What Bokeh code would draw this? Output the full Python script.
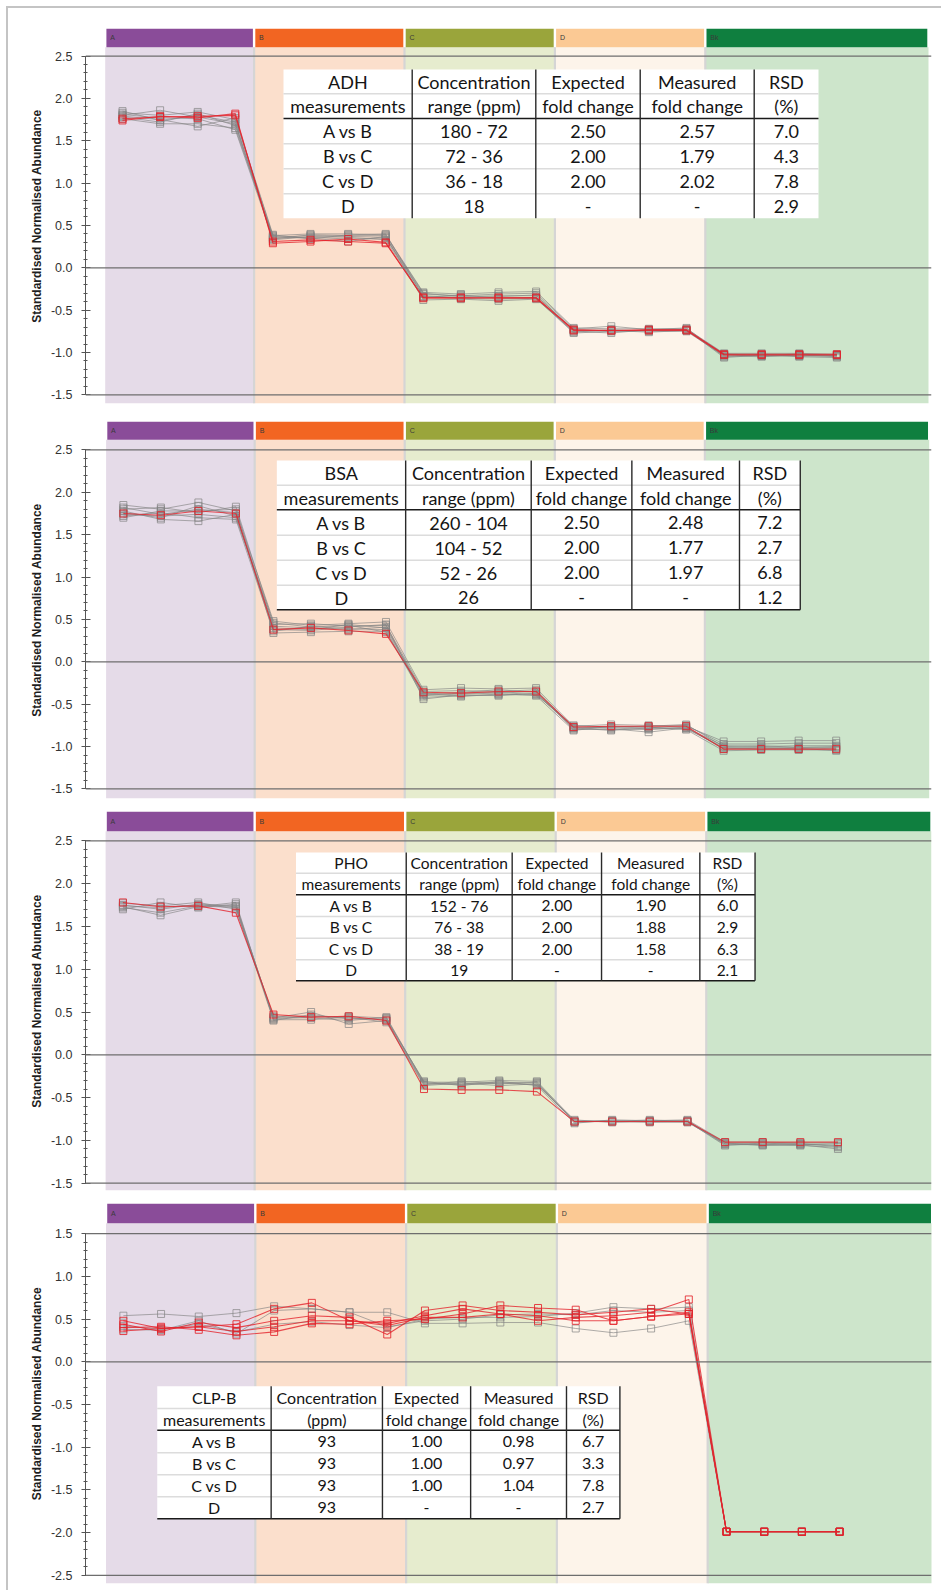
from bokeh.plotting import figure
from bokeh.layouts import column
from bokeh.models import Span, SingleIntervalTicker, PrintfTickFormatter
from bokeh.core.properties import value
from bokeh.embed import file_html
from bokeh.resources import INLINE

# ---------------- data ----------------
groups = ["A", "B", "C", "D", "Bk"]
header_colors = ["#8a4c99", "#f26522", "#9aa53b", "#fbc994", "#0f7f3f"]
band_colors = ["#e5dbe8", "#fbdfcc", "#e6ecce", "#fdf4ea", "#cde5cb"]
points_per_group = 4
x_idx = list(range(len(groups) * points_per_group))

adh_grey = [
    [1.83, 1.80, 1.84, 1.75, 0.38, 0.40, 0.40, 0.39, -0.29, -0.31, -0.29, -0.28, -0.71, -0.72, -0.72, -0.72, -1.01, -1.01, -1.01, -1.02],
    [1.80, 1.86, 1.78, 1.70, 0.36, 0.38, 0.37, 0.36, -0.31, -0.33, -0.31, -0.30, -0.72, -0.69, -0.73, -0.73, -1.02, -1.03, -1.02, -1.03],
    [1.78, 1.72, 1.82, 1.68, 0.35, 0.36, 0.34, 0.35, -0.33, -0.35, -0.34, -0.32, -0.74, -0.75, -0.74, -0.74, -1.03, -1.04, -1.04, -1.04],
    [1.85, 1.74, 1.80, 1.72, 0.33, 0.37, 0.36, 0.33, -0.35, -0.32, -0.36, -0.35, -0.76, -0.73, -0.75, -0.75, -1.04, -1.05, -1.03, -1.05],
    [1.76, 1.70, 1.70, 1.65, 0.37, 0.35, 0.31, 0.37, -0.38, -0.37, -0.39, -0.37, -0.75, -0.77, -0.73, -0.71, -1.05, -1.02, -1.05, -1.06],
    [1.81, 1.77, 1.76, 1.63, 0.34, 0.39, 0.38, 0.38, -0.30, -0.34, -0.33, -0.33, -0.73, -0.74, -0.76, -0.74, -1.02, -1.04, -1.02, -1.04],
    [1.79, 1.75, 1.67, 1.77, 0.39, 0.34, 0.39, 0.40, -0.34, -0.36, -0.37, -0.36, -0.77, -0.75, -0.74, -0.73, -1.06, -1.03, -1.04, -1.03],
]
adh_red = [
    [1.74, 1.79, 1.77, 1.82, 0.29, 0.31, 0.34, 0.30, -0.36, -0.36, -0.35, -0.35, -0.74, -0.74, -0.73, -0.73, -1.02, -1.02, -1.02, -1.02],
    [1.76, 1.78, 1.79, 1.80, 0.31, 0.33, 0.31, 0.29, -0.35, -0.35, -0.36, -0.36, -0.73, -0.74, -0.74, -0.74, -1.03, -1.03, -1.03, -1.03],
]

bsa_grey = [
    [1.85, 1.80, 1.88, 1.78, 0.48, 0.43, 0.45, 0.47, -0.33, -0.31, -0.32, -0.31, -0.76, -0.74, -0.75, -0.76, -0.94, -0.94, -0.93, -0.93],
    [1.80, 1.82, 1.76, 1.83, 0.44, 0.45, 0.42, 0.43, -0.35, -0.34, -0.35, -0.33, -0.78, -0.77, -0.78, -0.75, -0.97, -0.97, -0.96, -0.96],
    [1.76, 1.70, 1.84, 1.72, 0.40, 0.38, 0.44, 0.40, -0.38, -0.36, -0.33, -0.36, -0.80, -0.79, -0.83, -0.78, -0.99, -1.00, -0.99, -0.99],
    [1.72, 1.76, 1.70, 1.68, 0.36, 0.42, 0.39, 0.38, -0.40, -0.38, -0.37, -0.35, -0.79, -0.80, -0.79, -0.79, -1.01, -1.01, -1.01, -1.00],
    [1.82, 1.74, 1.80, 1.76, 0.34, 0.35, 0.36, 0.36, -0.42, -0.40, -0.39, -0.38, -0.77, -0.78, -0.80, -0.77, -1.03, -1.02, -1.03, -1.02],
    [1.78, 1.68, 1.66, 1.74, 0.42, 0.40, 0.38, 0.41, -0.37, -0.41, -0.38, -0.40, -0.81, -0.76, -0.77, -0.80, -1.05, -1.04, -1.04, -1.04],
    [1.70, 1.78, 1.78, 1.80, 0.38, 0.37, 0.41, 0.44, -0.44, -0.39, -0.40, -0.37, -0.78, -0.81, -0.78, -0.78, -1.02, -1.03, -1.02, -1.05],
    [1.74, 1.72, 1.74, 1.70, 0.46, 0.41, 0.43, 0.35, -0.39, -0.37, -0.36, -0.39, -0.75, -0.77, -0.76, -0.74, -1.00, -0.99, -1.01, -1.01],
]
bsa_red = [
    [1.75, 1.73, 1.78, 1.75, 0.38, 0.40, 0.37, 0.33, -0.36, -0.37, -0.35, -0.35, -0.77, -0.76, -0.76, -0.76, -1.03, -1.03, -1.03, -1.03],
]

pho_grey = [
    [1.75, 1.70, 1.76, 1.74, 0.42, 0.44, 0.45, 0.43, -0.32, -0.32, -0.30, -0.31, -0.77, -0.77, -0.77, -0.76, -1.02, -1.02, -1.03, -1.03],
    [1.72, 1.66, 1.74, 1.72, 0.40, 0.47, 0.42, 0.42, -0.34, -0.34, -0.32, -0.33, -0.78, -0.78, -0.78, -0.77, -1.04, -1.04, -1.04, -1.06],
    [1.70, 1.78, 1.72, 1.76, 0.43, 0.50, 0.36, 0.40, -0.35, -0.31, -0.34, -0.32, -0.79, -0.77, -0.79, -0.78, -1.05, -1.05, -1.06, -1.08],
    [1.77, 1.74, 1.78, 1.70, 0.44, 0.43, 0.40, 0.44, -0.33, -0.35, -0.33, -0.35, -0.76, -0.79, -0.78, -0.79, -1.03, -1.06, -1.05, -1.04],
    [1.73, 1.63, 1.73, 1.78, 0.41, 0.41, 0.44, 0.38, -0.36, -0.33, -0.36, -0.34, -0.78, -0.78, -0.76, -0.78, -1.06, -1.03, -1.05, -1.10],
    [1.74, 1.72, 1.75, 1.73, 0.45, 0.45, 0.43, 0.41, -0.31, -0.36, -0.31, -0.36, -0.80, -0.76, -0.77, -0.77, -1.04, -1.05, -1.04, -1.07],
]
pho_red = [
    [1.78, 1.73, 1.74, 1.66, 0.47, 0.44, 0.45, 0.40, -0.40, -0.41, -0.41, -0.43, -0.78, -0.78, -0.78, -0.78, -1.02, -1.02, -1.02, -1.02],
]

clpb_grey = [
    [0.54, 0.56, 0.53, 0.57, 0.65, 0.62, 0.58, 0.58, 0.45, 0.45, 0.46, 0.46, 0.39, 0.34, 0.39, 0.48, -1.99, -1.99, -1.99, -1.99],
    [0.42, 0.38, 0.44, 0.35, 0.44, 0.47, 0.43, 0.40, 0.50, 0.52, 0.52, 0.53, 0.57, 0.64, 0.62, 0.64, -1.99, -1.99, -1.99, -1.99],
    [0.38, 0.37, 0.48, 0.33, 0.60, 0.62, 0.58, 0.41, 0.48, 0.50, 0.55, 0.56, 0.55, 0.60, 0.58, 0.60, -1.99, -1.99, -1.99, -1.99],
]
clpb_red = [
    [0.48, 0.39, 0.41, 0.44, 0.62, 0.69, 0.48, 0.45, 0.54, 0.62, 0.56, 0.48, 0.52, 0.54, 0.58, 0.73, -1.99, -1.99, -1.99, -1.99],
    [0.44, 0.355, 0.46, 0.40, 0.48, 0.54, 0.52, 0.32, 0.60, 0.66, 0.60, 0.58, 0.55, 0.58, 0.62, 0.56, -1.99, -1.99, -1.99, -1.99],
    [0.40, 0.41, 0.375, 0.31, 0.35, 0.45, 0.44, 0.48, 0.50, 0.56, 0.66, 0.63, 0.61, 0.48, 0.53, 0.58, -1.99, -1.99, -1.99, -1.99],
    [0.36, 0.39, 0.41, 0.355, 0.41, 0.48, 0.48, 0.425, 0.52, 0.52, 0.56, 0.54, 0.48, 0.48, 0.53, 0.56, -1.99, -1.99, -1.99, -1.99],
]

adh_head1 = ["ADH", "Concentration", "Expected", "Measured", "RSD"]
adh_head2 = ["measurements", "range (ppm)", "fold change", "fold change", "(%)"]
adh_rows = [["A vs B", "180 - 72", "2.50", "2.57", "7.0"],
            ["B vs C", "72 - 36", "2.00", "1.79", "4.3"],
            ["C vs D", "36 - 18", "2.00", "2.02", "7.8"],
            ["D", "18", "-", "-", "2.9"]]
bsa_head1 = ["BSA", "Concentration", "Expected", "Measured", "RSD"]
bsa_head2 = ["measurements", "range (ppm)", "fold change", "fold change", "(%)"]
bsa_rows = [["A vs B", "260 - 104", "2.50", "2.48", "7.2"],
            ["B vs C", "104 - 52", "2.00", "1.77", "2.7"],
            ["C vs D", "52 - 26", "2.00", "1.97", "6.8"],
            ["D", "26", "-", "-", "1.2"]]
pho_head1 = ["PHO", "Concentration", "Expected", "Measured", "RSD"]
pho_head2 = ["measurements", "range (ppm)", "fold change", "fold change", "(%)"]
pho_rows = [["A vs B", "152 - 76", "2.00", "1.90", "6.0"],
            ["B vs C", "76 - 38", "2.00", "1.88", "2.9"],
            ["C vs D", "38 - 19", "2.00", "1.58", "6.3"],
            ["D", "19", "-", "-", "2.1"]]
clpb_head1 = ["CLP-B", "Concentration", "Expected", "Measured", "RSD"]
clpb_head2 = ["measurements", "(ppm)", "fold change", "fold change", "(%)"]
clpb_rows = [["A vs B", "93", "1.00", "0.98", "6.7"],
             ["B vs C", "93", "1.00", "0.97", "3.3"],
             ["C vs D", "93", "1.00", "1.04", "7.8"],
             ["D", "93", "-", "-", "2.7"]]

# ---------------- layout (page pixels) ----------------
OX, OY = 8, 8
FIG_W = 941 - OX
RIGHT_PX = 931

panels = [
    dict(grey=adh_grey, red=adh_red, h1=adh_head1, h2=adh_head2, rows=adh_rows, bounds=(-1.5, 2.5),
         fig_top=8, fig_bottom=410, frame_top=28, head_bot=46.7, frame_bottom=403,
         axis_x=85, x0=122.0, s=37.6, y0=267.3, k=84.7, band_right=928,
         tcols=[283, 411.7, 535.3, 639.7, 753.7, 818], trows=[69, 93.3, 118, 143.3, 168.3, 193.3, 217.7],
         tfont=18, tbottom=False, tright=False),
    dict(grey=bsa_grey, red=bsa_red, h1=bsa_head1, h2=bsa_head2, rows=bsa_rows, bounds=(-1.5, 2.5),
         fig_top=410, fig_bottom=802, frame_top=421, head_bot=439.3, frame_bottom=798,
         axis_x=82, x0=120.0, s=37.65, y0=661.3, k=84.75, band_right=928.7,
         tcols=[274, 403.3, 529.3, 630.3, 738.3, 799.3], trows=[460, 484.7, 509.3, 534.7, 559.7, 584.7, 609.3],
         tfont=18, tbottom=True, tright=True),
    dict(grey=pho_grey, red=pho_red, h1=pho_head1, h2=pho_head2, rows=pho_rows, bounds=(-1.5, 2.5),
         fig_top=802, fig_bottom=1195, frame_top=811, head_bot=830.7, frame_bottom=1190,
         axis_x=79, x0=116.7, s=37.9, y0=1054.3, k=85.6, band_right=931,
         tcols=[291, 402, 508.7, 598.7, 697.7, 753.3], trows=[852, 872.7, 894.3, 916, 937.7, 959.3, 980.3],
         tfont=15.5, tbottom=True, tright=True),
    dict(grey=clpb_grey, red=clpb_red, h1=clpb_head1, h2=clpb_head2, rows=clpb_rows, bounds=(-2.5, 1.5),
         fig_top=1195, fig_bottom=1590, frame_top=1203, head_bot=1222.7, frame_bottom=1583,
         axis_x=82, x0=120.0, s=37.83, y0=1361.3, k=85.4, band_right=931.7,
         tcols=[154, 268.3, 380, 468.5, 564.7, 618.3], trows=[1385.7, 1408, 1429.7, 1452.3, 1474.3, 1496.3, 1518.3],
         tfont=16, tbottom=True, tright=True),
]

GREY = "#838383"
RED = "#e3232c"


def make_panel(g):
    px2x = lambda px: (px - g["x0"]) / g["s"]
    py2y = lambda py: (g["y0"] - py) / g["k"]
    xr = (px2x(g["axis_x"]), px2x(RIGHT_PX))
    yr = (py2y(g["frame_bottom"]), py2y(g["frame_top"]))
    p = figure(width=FIG_W, height=g["fig_bottom"] - g["fig_top"], x_range=xr, y_range=yr,
               output_backend="svg", toolbar_location=None, x_axis_type=None,
               min_border_left=int(round(g["axis_x"] - OX)), min_border_right=OX + FIG_W - RIGHT_PX,
               min_border_top=int(round(g["frame_top"] - g["fig_top"])),
               min_border_bottom=int(round(g["fig_bottom"] - g["frame_bottom"])))
    p.xgrid.visible = False
    p.ygrid.visible = False
    p.outline_line_color = None
    p.background_fill_color = "white"
    p.border_fill_color = "white"

    # group bands and headers
    n = points_per_group
    lefts = [gi * n - 0.5 for gi in range(len(groups))]
    rights = [gi * n + n - 0.5 for gi in range(len(groups))]
    lefts[0] = -0.46
    rights[-1] = px2x(g["band_right"])
    hb = py2y(g["head_bot"])
    p.quad(left=lefts, right=rights, bottom=yr[0], top=hb, fill_color=band_colors, line_color=None)
    seps = rights[:-1]
    p.segment(x0=seps, y0=[yr[0]] * len(seps), x1=seps, y1=[hb] * len(seps), line_color="#d5d5d5", line_width=2.2)
    inset = 1.2 / g["s"]
    p.quad(left=[l + inset for l in lefts], right=[r - inset for r in rights], bottom=hb, top=yr[1],
           fill_color=header_colors, line_color=None)
    p.text(x=[l + 5.0 / g["s"] for l in lefts], y=[(hb + yr[1]) / 2] * len(groups), text=groups,
           text_font=value("Liberation Sans"), text_font_size="7px", text_color="#3a3a3a",
           text_align="left", text_baseline="middle")

    lo, hi = g["bounds"]
    for v in (hi, 0, lo):
        p.add_layout(Span(location=v, dimension="width", line_color="#6e6e6e", line_width=1.3))

    # series
    for ser in g["grey"]:
        p.line(x_idx, ser, line_color=GREY, line_alpha=0.65, line_width=1)
        p.scatter(x_idx, ser, marker="square", size=7, fill_color=None, line_color=GREY, line_alpha=0.7, line_width=1)
    for ser in g["red"]:
        p.line(x_idx, ser, line_color=RED, line_alpha=0.8, line_width=1.1)
        p.scatter(x_idx, ser, marker="square", size=7, fill_color=None, line_color=RED, line_alpha=0.85, line_width=1)

    # table
    tc = [px2x(c) for c in g["tcols"]]
    tr = [py2y(r) for r in g["trows"]]
    p.quad(left=tc[0], right=tc[-1], top=tr[0], bottom=tr[-1], fill_color="white", line_color=None)
    light = [tr[1], tr[3], tr[4], tr[5]]
    p.segment(x0=[tc[0]] * 4, y0=light, x1=[tc[-1]] * 4, y1=light, line_color="#dcdcdc", line_width=1.5)
    hx = [tr[2]] + ([tr[6]] if g["tbottom"] else [])
    p.segment(x0=[tc[0]] * len(hx), y0=hx, x1=[tc[-1]] * len(hx), y1=hx, line_color="#1a1a1a", line_width=1.4)
    vx = tc[1:5] + ([tc[5]] if g["tright"] else [])
    p.segment(x0=vx, y0=[tr[0]] * len(vx), x1=vx, y1=[tr[-1]] * len(vx), line_color="#2a2a2a", line_width=1.4)
    cx = [(tc[i] + tc[i + 1]) / 2 for i in range(5)]
    all_rows = [g["h1"], g["h2"]] + g["rows"]
    xs, ys, ts = [], [], []
    for ri, row in enumerate(all_rows):
        cy = (tr[ri] + tr[ri + 1]) / 2
        for ci, t in enumerate(row):
            xs.append(cx[ci]); ys.append(cy); ts.append(t)
    p.text(x=xs, y=ys, text=ts, text_font=value("Lato"), text_font_size=f"{g['tfont']}px",
           text_color="#141414", text_align="center", text_baseline="middle")

    # axis
    ax = p.yaxis[0]
    ax.ticker = SingleIntervalTicker(interval=0.5, num_minor_ticks=5)
    ax.bounds = (lo, hi)
    ax.formatter = PrintfTickFormatter(format="%.1f")
    ax.axis_label = "Standardised Normalised Abundance"
    ax.axis_label_text_font = "Liberation Sans"
    ax.axis_label_text_font_style = "bold"
    ax.axis_label_text_font_size = "12px"
    ax.axis_label_text_color = "#1e1e1e"
    ax.axis_label_standoff = 4
    ax.major_label_text_font = "Liberation Sans"
    ax.major_label_text_font_size = "12.5px"
    ax.major_label_text_color = "#333333"
    ax.major_label_standoff = 9
    ax.axis_line_color = "#555555"
    ax.major_tick_line_color = "#555555"
    ax.minor_tick_line_color = "#555555"
    ax.major_tick_in = 5
    ax.major_tick_out = 4
    ax.minor_tick_in = 2
    ax.minor_tick_out = 2
    return p


figs = [make_panel(g) for g in panels]
layout = column(*figs, spacing=0,
                styles={"margin-left": "6px", "margin-top": "6px",
                        "border-left": "2px solid #c4c4c4", "border-top": "2px solid #c4c4c4"})
open("out.html", "w").write(file_html(layout, INLINE))
